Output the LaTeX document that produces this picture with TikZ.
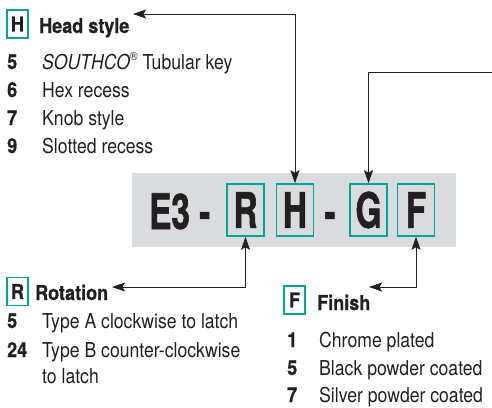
\documentclass[tikz,border=0pt]{standalone}
\usepackage{fontspec}
\setmainfont{TeX Gyre Heros}
\newfontfamily\condreg[FakeStretch=0.86]{TeX Gyre Heros}
\newfontfamily\condbold[FakeStretch=0.88, FakeBold=0.6]{TeX Gyre Heros Bold}
\newfontfamily\condbig[FakeStretch=0.68, BoldFeatures={FakeBold=1.2}]{TeX Gyre Heros}
\usetikzlibrary{arrows.meta}
\definecolor{teal}{RGB}{0,166,147}
\definecolor{band}{RGB}{217,220,223}
\definecolor{ink}{RGB}{35,31,32}
\tikzset{
  txt/.style={anchor=base west, inner sep=0pt, text=ink, font=\condreg\fontsize{20.5}{22}\selectfont},
  bold/.style={txt, font=\condbold\fontsize{20.5}{22}\selectfont},
  bigtxt/.style={inner sep=0pt, text=ink, font=\condbig\bfseries\fontsize{49}{50}\selectfont},
  codebox/.style={bigtxt, draw=teal, line width=1.6pt, minimum width=37pt, minimum height=52pt},
  smallbox/.style={draw=teal, line width=1.4pt, minimum width=21pt, minimum height=28pt, inner sep=0pt, text=ink, font=\condbold\fontsize{20.5}{22}\selectfont},
  conn/.style={draw=ink, line width=0.9pt},
  mytip/.tip={Stealth[length=13pt,width=9pt,inset=2.5pt]}
}
\begin{document}
\begin{tikzpicture}[x=1pt,y=-1pt]
\useasboundingbox (0,0) rectangle (492,407);
% band
\fill[band] (132,173) rectangle (456,247);
\node[bigtxt, anchor=base west] (e3) at (149,229) {E3 -};
\node[codebox] (Rb) at (245.5,210) {R};
\node[codebox] (Hb) at (295,210) {H};
\node[bigtxt, anchor=base] (dash) at (330,229) {-};
\node[codebox] (Gb) at (368.5,210) {G};
\node[codebox] (Fb) at (416,210) {F};

% Head style
\node[smallbox] (Hs) at (17.5,24) {H};
\node[bold] (Ht) at (39,33) {Head style};
\node[bold] (h5) at (7,69) {5};
\node[txt] (h5t) at (42,69) {\textit{SOUTHCO}\raisebox{0.42em}{\fontsize{12}{12}\selectfont\char"00AE}\ Tubular key};
\node[bold] (h6) at (7,97) {6};
\node[txt] (h6t) at (42,97) {Hex recess};
\node[bold] (h7) at (7,125) {7};
\node[txt] (h7t) at (42,125) {Knob style};
\node[bold] (h9) at (7,153) {9};
\node[txt] (h9t) at (42,153) {Slotted recess};

% Rotation
\node[smallbox] (Rs) at (17.5,291.5) {R};
\node[bold] (Rt) at (35,300) {Rotation};
\node[bold] (r5) at (7,328) {5};
\node[txt] (r5t) at (42,328) {Type A clockwise to latch};
\node[bold] (r24) at (7,357) {24};
\node[txt] (r24t) at (42,357) {Type B counter-clockwise};
\node[txt] (r24u) at (42,383) {to latch};

% Finish
\node[smallbox] (Fs) at (294.5,300) {F};
\node[bold] (Ft) at (317,310) {Finish};
\node[bold] (f1) at (287,347) {1};
\node[txt] (f1t) at (319,347) {Chrome plated};
\node[bold] (f5) at (287,375) {5};
\node[txt] (f5t) at (319,375) {Black powder coated};
\node[bold] (f7) at (287,402) {7};
\node[txt] (f7t) at (319,402) {Silver powder coated};

% connectors
\coordinate (hA) at (133,14);
\coordinate (rA) at (112,287);
\coordinate (fA) at (369,287);
\coordinate (gA) at (492,72);
\draw[conn, mytip-mytip] (hA) -| (Hb.north);
\draw[conn, -mytip] (gA) -| (Gb.north);
\draw[conn, mytip-mytip] (rA) -| (Rb.south);
\draw[conn, mytip-mytip] (fA) -| (Fb.south);
\end{tikzpicture}
\end{document}
